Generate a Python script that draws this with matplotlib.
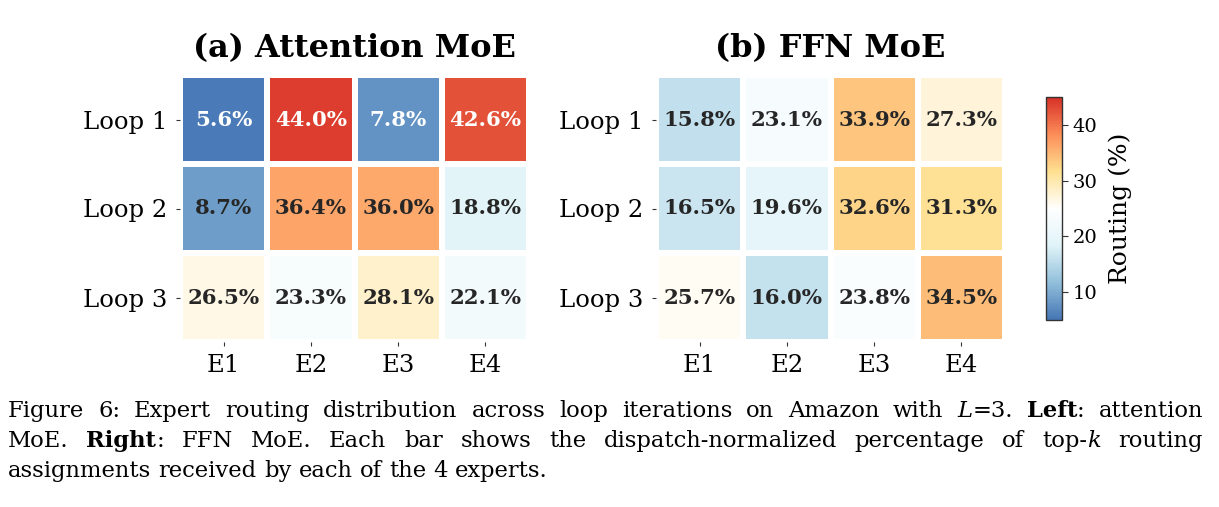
import numpy as np
import matplotlib
matplotlib.use("Agg")
import matplotlib.pyplot as plt
from matplotlib.colors import LinearSegmentedColormap, Normalize

# routing shares (%) per loop (rows) and expert (cols)
experts = ["E1", "E2", "E3", "E4"]
loops = ["Loop 1", "Loop 2", "Loop 3"]
attn_routing = [[5.6, 44.0, 7.8, 42.6],
                [8.7, 36.4, 36.0, 18.8],
                [26.5, 23.3, 28.1, 22.1]]
ffn_routing = [[15.8, 23.1, 33.9, 27.3],
               [16.5, 19.6, 32.6, 31.3],
               [25.7, 16.0, 23.8, 34.5]]
titles = ["(a) Attention MoE", "(b) FFN MoE"]
cbar_ticks = [10, 20, 30, 40]

cmap = LinearSegmentedColormap.from_list(
    "rdylbu_white", ["#4575b4", "#91bfdb", "#e0f3f8", "#ffffff", "#fee090", "#fc8d59", "#d73027"])
norm = Normalize(vmin=5, vmax=45)

W, H = 1219, 507
fig = plt.figure(figsize=(W / 100, H / 100), dpi=100)


def px_axes(x0, y0, x1, y1):  # pixel box (from top-left) -> axes
    return fig.add_axes([x0 / W, 1 - y1 / H, (x1 - x0) / W, (y1 - y0) / H])


def draw_heatmap(ax, vals, title):
    vals = np.array(vals)
    ax.pcolormesh(vals, cmap=cmap, norm=norm, edgecolors="white", linewidth=3)
    ax.set_xlim(0, vals.shape[1])
    ax.set_ylim(vals.shape[0], 0)
    for s in ax.spines.values():
        s.set_visible(False)
    ax.set_xticks(np.arange(vals.shape[1]) + 0.5)
    ax.set_xticklabels(experts, fontfamily="DejaVu Serif", fontsize=17.5)
    ax.set_yticks(np.arange(vals.shape[0]) + 0.5)
    ax.set_yticklabels(loops, fontfamily="DejaVu Serif", fontsize=17.5)
    ax.tick_params(length=3, width=0.8, color="#333333", pad=6)
    for i in range(vals.shape[0]):
        for j in range(vals.shape[1]):
            v = vals[i, j]
            c = "white" if (v < 8 or v > 40) else "#262626"
            ax.text(j + 0.5, i + 0.5, f"{v:.1f}%", ha="center", va="center",
                    color=c, fontfamily="DejaVu Serif", fontweight="bold", fontsize=15.3)
    ax.set_title(title, fontfamily="DejaVu Serif", fontweight="bold", fontsize=23, pad=13)


ax1 = px_axes(180, 75, 529, 342)
ax2 = px_axes(656, 75, 1005, 342)
draw_heatmap(ax1, attn_routing, titles[0])
draw_heatmap(ax2, ffn_routing, titles[1])

cax = px_axes(1046, 97, 1062, 320)
sm = plt.cm.ScalarMappable(cmap=cmap, norm=norm)
cb = fig.colorbar(sm, cax=cax, ticks=cbar_ticks)
cb.outline.set_linewidth(1.0)
cb.outline.set_edgecolor("#333333")
cax.tick_params(labelsize=14, length=4, width=0.8, color="#333333")
for t in cax.get_yticklabels():
    t.set_fontfamily("DejaVu Serif")
cb.set_label("Routing (%)", fontfamily="DejaVu Serif", fontsize=18, labelpad=8)

# caption, justified like the paper layout
cap_font = dict(fontfamily="DejaVu Serif", fontsize=16.3)
caption = [
    [[("Figure", {})], [("6:", {})], [("Expert", {})], [("routing", {})], [("distribution", {})],
     [("across", {})], [("loop", {})], [("iterations", {})], [("on", {})], [("Amazon", {})],
     [("with", {})], [("L", {"fontstyle": "italic"}), ("=3.", {})],
     [("Left", {"fontweight": "bold"}), (":", {})], [("attention", {})]],
    [[("MoE.", {})], [("Right", {"fontweight": "bold"}), (":", {})], [("FFN", {})], [("MoE.", {})],
     [("Each", {})], [("bar", {})], [("shows", {})], [("the", {})], [("dispatch-normalized", {})],
     [("percentage", {})], [("of", {})], [("top-", {}), ("k", {"fontstyle": "italic"})], [("routing", {})]],
    [[(w, {})] for w in "assignments received by each of the 4 experts.".split()],
]
baselines = [417, 447, 477]
left_px, right_px = 8, 1203
renderer = fig.canvas.get_renderer()
tmp = fig.text(0, 0, "a a", **cap_font)
tmp2 = fig.text(0, 0, "aa", **cap_font)
space_w = tmp.get_window_extent(renderer).width - tmp2.get_window_extent(renderer).width
tmp.remove()
tmp2.remove()
for li, line in enumerate(caption):
    y = 1 - baselines[li] / H
    pieces = []
    widths = []
    for word in line:
        wtexts = []
        ww = 0
        for s, props in word:
            t = fig.text(0, y, s, va="baseline", ha="left", **cap_font, **props)
            w = t.get_window_extent(renderer).width
            wtexts.append((t, w))
            ww += w
        pieces.append(wtexts)
        widths.append(ww)
    if li < 2:
        gap = (right_px - left_px - sum(widths)) / (len(line) - 1)
    else:
        gap = space_w
    x = left_px
    for wtexts, ww in zip(pieces, widths):
        xx = x
        for t, w in wtexts:
            t.set_x(xx / W)
            xx += w
        x += ww + gap

fig.savefig("out.png", dpi=100)
